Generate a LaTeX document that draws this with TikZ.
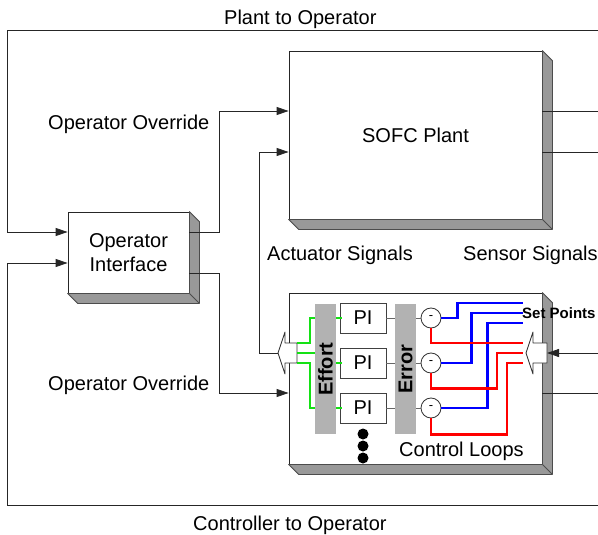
\documentclass[tikz,border=0pt]{standalone}
\usepackage{fontspec}
\setmainfont{Liberation Sans}
\usetikzlibrary{arrows.meta, positioning}
\definecolor{facegray}{RGB}{153,153,153}
\definecolor{bargray}{RGB}{178,178,178}
\definecolor{effortgreen}{RGB}{20,225,20}
\tikzstyle{block} = [rectangle, draw=black!85, fill=white, line width=0.8pt, inner sep=0pt, align=center, font=\fontsize{20}{24}\selectfont]
\tikzstyle{face} = [draw=black!70, fill=facegray, line width=0.8pt, line join=round]
\tikzstyle{sig} = [-{Triangle[length=12pt,width=8pt]}, line width=0.8pt, black!85]
\tikzstyle{wire} = [line width=0.8pt, black!85]
\tikzstyle{graywire} = [line width=0.8pt, black!60]
\tikzstyle{lbl} = [inner sep=0pt, anchor=base west, font=\fontsize{20}{24}\selectfont]
\tikzstyle{bar} = [rectangle, fill=bargray, rotate=90, minimum width=130pt, minimum height=21pt, inner sep=0pt, font=\bfseries\fontsize{20}{24}\selectfont]
\tikzstyle{pibox} = [rectangle, draw=black!75, fill=white, line width=0.8pt, minimum width=46pt, minimum height=30pt, inner sep=0pt, font=\fontsize{20}{24}\selectfont]
\tikzstyle{summer} = [circle, draw=black!80, fill=white, line width=0.8pt, minimum size=20pt, inner sep=0pt, font=\fontsize{13}{15}\selectfont]
\tikzstyle{hollow} = [draw=black!80, fill=white, line width=0.8pt, line join=round]
\tikzstyle{effortline} = [effortgreen, line width=2pt]
\tikzstyle{setline} = [blue, line width=2.2pt]
\tikzstyle{measline} = [red, line width=2.2pt]
% side faces of a raised block
\newcommand{\extrude}[1]{%
  \draw[face] (#1.north east) -- ++(10,10) -- ([shift={(10,10)}]#1.south east)
    -- ([shift={(10,10)}]#1.south west) -- (#1.south west) -- (#1.south east) -- cycle;
  \draw[face] (#1.south east) -- ++(10,10);}

\begin{document}
\begin{tikzpicture}[x=1pt, y=-1pt]
  \useasboundingbox (0,0) rectangle (598,535);

  % blocks
  \node[block, minimum width=253pt, minimum height=168pt] (plant) at (415.5,135) {SOFC Plant};
  \extrude{plant}
  \node[block, minimum width=121pt, minimum height=81pt] (oi) at (128.5,252.5) {Operator\\Interface};
  \extrude{oi}
  \node[block, minimum width=253pt, minimum height=171pt] (ctrl) at (415.5,378.5) {};
  \extrude{ctrl}

  % page edge ends
  \coordinate (topR) at (598,30);
  \coordinate (topL) at (7,30);
  \coordinate (botR) at (598,505);
  \coordinate (botL) at (7,505);
  \coordinate (out1) at (598,111);
  \coordinate (out2) at (598,152);
  \coordinate (out3) at (598,393);
  \coordinate (in1) at (598,353);

  % hollow arrows
  \coordinate (ltip) at (278,353);
  \coordinate (lbody) at (297,353);
  \draw[hollow] (ltip) -- ++(7,-21) -- ++(0,11) -- ++(12,0) -- ++(0,20) -- ++(-12,0) -- ++(0,11) -- cycle;
  \coordinate (rtip) at (526,353);
  \coordinate (rbody) at (547,353);
  \draw[hollow] (rtip) -- ++(7,-21) -- ++(0,11) -- ++(14,0) -- ++(0,20) -- ++(-14,0) -- ++(0,11) -- cycle;

  % Plant to Operator
  \draw[wire] (plant.east |- out1) -- (out1);
  \draw[wire] (plant.east |- out2) -- (out2);
  \draw[sig] (topR) -- (topL) |- ([yshift=20.5pt]oi.west);

  % Operator Override
  \draw[sig] ([yshift=20.5pt]oi.east) -- ++(30,0) |- (plant.west |- out1);
  \draw[sig] ([yshift=-20.5pt]oi.east) -- ++(30,0) |- ([yshift=-14.5pt]ctrl.west);

  % Actuator / Sensor Signals
  \draw[sig] (ltip) -- ++(-19,0) |- (plant.west |- out2);
  \draw[sig] (in1) -- (rbody);

  % Controller to Operator
  \draw[wire] ([yshift=-14.5pt]ctrl.east) -- (out3);
  \draw[sig] (botR) -- (botL) |- ([yshift=-10.5pt]oi.west);

  % control loops
  \foreach \y/\n in {318/1,363/2,408/3} {
    \node[pibox] (pi\n) at (363,\y) {PI};
    \node[summer] (sum\n) at (431,\y) {-};
    \draw[graywire] (pi\n.east) -- (sum\n.west);
  }
  \node[bar] (effort) at (325.5,369) {Effort};
  \node[bar] (error) at (405.5,369) {Error};

  % effort
  \draw[effortline] ([yshift=10pt]lbody) -- ++(13,0) |- (pi1 -| effort.north);
  \draw[effortline] (lbody) -- (lbody -| effort.north);
  \draw[effortline] ([yshift=-10pt]lbody) -- ++(13,0) |- (pi3 -| effort.north);
  \foreach \n in {1,2,3}
    \draw[effortline] (pi\n -| effort.south) -- ([xshift=2pt]pi\n.west);

  % set points
  \coordinate (sp1) at (523,303);
  \coordinate (sp2) at (523,313);
  \coordinate (sp3) at (523,323);
  \draw[setline] (sum1.east) -- ++(16,0) |- (sp1);
  \draw[setline] (sum2.east) -- ++(30,0) |- (sp2);
  \draw[setline] (sum3.east) -- ++(46,0) |- (sp3);

  % measurements
  \coordinate (fb1) at (523,343);
  \coordinate (fb2) at (523,353);
  \coordinate (fb3) at (523,363);
  \draw[measline] (sum1.south) |- (fb1);
  \draw[measline] (sum2.south) -- ++(0,15) -| ([xshift=-26pt]fb2) -- (fb2);
  \draw[measline] (sum3.south) -- ++(0,16) -| ([xshift=-16pt]fb3) -- (fb3);

  % more loops
  \foreach \y in {434,446,458}
    \fill (363,\y) circle (5.5pt);

  % labels
  \node[lbl] (ptoo) at (224,25) {Plant to Operator};
  \node[lbl] (ovr1) at (48,129) {Operator Override};
  \node[lbl] (ovr2) at (48,390) {Operator Override};
  \node[lbl] (act) at (267,260) {Actuator Signals};
  \node[lbl] (sens) at (463,260) {Sensor Signals};
  \node[lbl] (ctoo) at (193,530) {Controller to Operator};
  \node[lbl] (loops) at (399,456) {Control Loops};
  \node[lbl, font=\bfseries\fontsize{15}{18}\selectfont] (setp) at (522,318) {Set Points};
\end{tikzpicture}
\end{document}
